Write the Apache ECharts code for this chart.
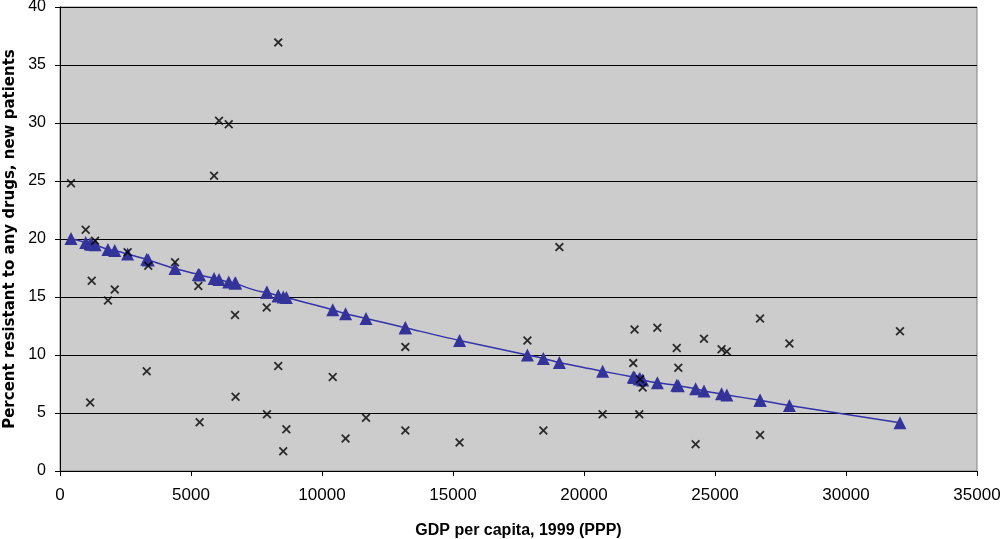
<!DOCTYPE html>
<html><head><meta charset="utf-8">
<script src="https://cdn.jsdelivr.net/npm/echarts@6/dist/echarts.min.js"></script>
<style>html,body{margin:0;padding:0;background:#fff}#c{width:1000px;height:539px}</style>
</head><body><div id="c"></div>
<script>
const gdp = [420,980,1150,1210,1340,1830,2090,2580,3310,3370,4390,5280,5330,5880,6070,6440,6680,6700,7890,7900,8330,8330,8520,8640,10410,10900,11680,13180,13180,15250,17840,18450,19060,20710,21880,21930,22110,22140,22240,22800,23540,23600,24260,24580,25250,25450,26720,26720,27840,32060];
const resistance = [24.8,20.8,5.9,16.4,19.85,14.7,15.65,18.85,8.6,17.7,18.0,15.95,4.2,25.45,30.2,29.9,13.45,6.4,14.1,4.9,36.95,9.05,1.7,3.6,8.1,2.8,4.6,10.7,3.5,2.45,11.25,3.5,19.3,4.9,9.3,12.2,4.9,7.9,7.2,12.35,10.6,8.9,2.3,11.4,10.5,10.3,13.15,3.1,11.0,12.05];
const fitted = [20.05,19.7,19.6,19.55,19.5,19.1,19.0,18.7,18.25,18.2,17.45,16.95,16.9,16.6,16.5,16.3,16.2,16.2,15.4,15.4,15.1,15.1,15.0,14.95,13.9,13.55,13.15,12.35,12.35,11.25,10.0,9.7,9.35,8.6,8.1,8.05,7.95,7.95,7.85,7.6,7.4,7.35,7.1,6.9,6.65,6.55,6.1,6.1,5.65,4.15];
const xTicks = {min:0,max:35000,interval:5000};
const yTicks = {min:0,max:40,interval:5};

const obs = gdp.map((g,i)=>[g,resistance[i]]);
const fit = gdp.map((g,i)=>[g,fitted[i]]);
const cross = 'path://M0,1.4L1.4,0L5,3.6L8.6,0L10,1.4L6.4,5L10,8.6L8.6,10L5,6.4L1.4,10L0,8.6L3.6,5Z';

const chart = echarts.init(document.getElementById('c'));
chart.setOption({
  animation:false,
  grid:{left:60,right:23,top:7,bottom:68,containLabel:false,outerBoundsMode:'none',show:true,backgroundColor:'#CCCCCC',borderColor:'#808080',borderWidth:1},
  xAxis:{type:'value',min:xTicks.min,max:xTicks.max,interval:xTicks.interval,
    name:'GDP per capita, 1999 (PPP)',nameLocation:'middle',nameGap:52,
    nameTextStyle:{fontFamily:'Liberation Sans',fontWeight:'bold',fontSize:16,color:'#000'},
    axisLine:{lineStyle:{color:'#000',width:1}},
    axisTick:{show:true,length:5,lineStyle:{color:'#000'}},
    axisLabel:{fontFamily:'Liberation Sans',fontSize:17,color:'#000',margin:16,formatter:v=>String(v)},
    splitLine:{show:false}},
  yAxis:{type:'value',min:yTicks.min,max:yTicks.max,interval:yTicks.interval,
    name:'Percent resistant to any drugs, new patients',nameLocation:'middle',nameGap:42,
    nameTextStyle:{fontFamily:'DejaVu Sans',fontWeight:'bold',fontSize:15,color:'#000'},
    axisLine:{show:true,lineStyle:{color:'#000',width:1}},
    axisTick:{show:true,length:5,lineStyle:{color:'#000'}},
    axisLabel:{fontFamily:'Liberation Sans',fontSize:16,color:'#000',margin:14},
    splitLine:{show:true,lineStyle:{color:'#000',width:1.2}}},
  series:[
    {type:'line',data:fit,symbol:'triangle',symbolSize:13,smooth:0.3,
     lineStyle:{color:'#3333AA',width:1.5},itemStyle:{color:'#333399'},z:3},
    {type:'scatter',data:obs,symbol:cross,symbolSize:9,itemStyle:{color:'#000'},z:4}
  ]
});
</script></body></html>
